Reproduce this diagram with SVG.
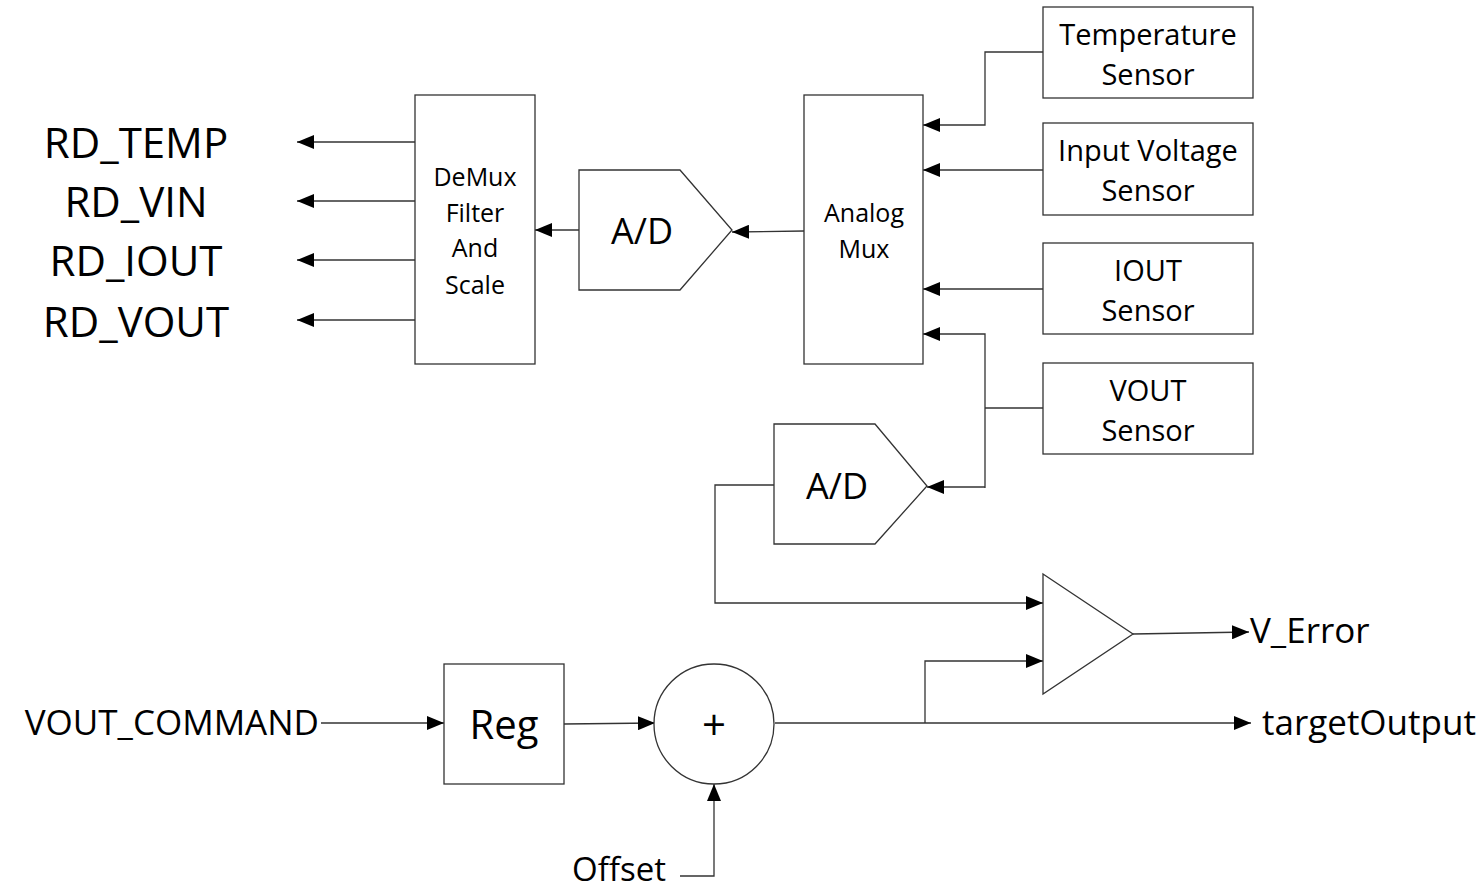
<svg xmlns="http://www.w3.org/2000/svg" width="1483" height="890" viewBox="0 0 1483 890">
<defs>
<marker id="arr" markerWidth="17" markerHeight="14" refX="17" refY="7" orient="auto" markerUnits="userSpaceOnUse">
<path d="M0,0 L17,7 L0,14 Z" fill="#000"/>
</marker>
<style>
.box{fill:#fff;stroke:#333;stroke-width:1.3}
.ln{fill:none;stroke:#333;stroke-width:1.3}
.t{font-family:"Open Sans","Noto Sans",sans-serif;fill:#000;text-anchor:middle;dominant-baseline:central}
.s{font-size:29px}
.m{font-size:25px}
.l{font-size:42px}
.lab{font-size:35px}
</style>
</defs>
<rect width="1483" height="890" fill="#fff"/>

<g id="connectors">
<line class="ln" x1="415" y1="142" x2="297" y2="142" marker-end="url(#arr)"/>
<line class="ln" x1="415" y1="201" x2="297" y2="201" marker-end="url(#arr)"/>
<line class="ln" x1="415" y1="260" x2="297" y2="260" marker-end="url(#arr)"/>
<line class="ln" x1="415" y1="320" x2="297" y2="320" marker-end="url(#arr)"/>
<line class="ln" x1="579" y1="230" x2="535" y2="230" marker-end="url(#arr)"/>
<line class="ln" x1="804" y1="231" x2="732" y2="232" marker-end="url(#arr)"/>
<polyline class="ln" points="1043,52 985,52 985,125 923,125" marker-end="url(#arr)"/>
<line class="ln" x1="1043" y1="170" x2="923" y2="170" marker-end="url(#arr)"/>
<line class="ln" x1="1043" y1="289" x2="923" y2="289" marker-end="url(#arr)"/>
<polyline class="ln" points="985,488 985,334 923,334" marker-end="url(#arr)"/>
<line class="ln" x1="1043" y1="408" x2="985" y2="408"/>
<line class="ln" x1="985" y1="487" x2="927" y2="487" marker-end="url(#arr)"/>
<polyline class="ln" points="774,485 715,485 715,603 1043,603" marker-end="url(#arr)"/>
<polyline class="ln" points="925,723 925,661 1043,661" marker-end="url(#arr)"/>
<line class="ln" x1="1133" y1="634" x2="1249" y2="632" marker-end="url(#arr)"/>
<line class="ln" x1="775" y1="723" x2="1251" y2="723" marker-end="url(#arr)"/>
<line class="ln" x1="321" y1="723" x2="444" y2="723" marker-end="url(#arr)"/>
<line class="ln" x1="564" y1="724" x2="655" y2="723" marker-end="url(#arr)"/>
<polyline class="ln" points="680,876 714,876 714,784" marker-end="url(#arr)"/>
</g>

<g id="labels-left">
<text class="t l" x="136" y="141">RD_TEMP</text>
<text class="t l" x="136" y="200">RD_VIN</text>
<text class="t l" x="136" y="259">RD_IOUT</text>
<text class="t l" x="136" y="320">RD_VOUT</text>
</g>

<g id="demux">
<rect class="box" x="415" y="95" width="120" height="269"/>
<text class="t m" x="475" y="176">DeMux</text>
<text class="t m" x="475" y="212">Filter</text>
<text class="t m" x="475" y="247">And</text>
<text class="t m" x="475" y="284">Scale</text>
</g>

<g id="ad-top">
<polygon class="box" points="579,170 680,170 732,230 680,290 579,290"/>
<text class="t" x="642" y="230" font-size="36">A/D</text>
</g>

<g id="analog-mux">
<rect class="box" x="804" y="95" width="119" height="269"/>
<text class="t m" x="864" y="212">Analog</text>
<text class="t m" x="864" y="248">Mux</text>
</g>

<g id="temp-sensor">
<rect class="box" x="1043" y="7" width="210" height="91"/>
<text class="t s" x="1148" y="33">Temperature</text>
<text class="t s" x="1148" y="73">Sensor</text>
</g>
<g id="vin-sensor">
<rect class="box" x="1043" y="123" width="210" height="92"/>
<text class="t s" x="1148" y="149">Input Voltage</text>
<text class="t s" x="1148" y="189">Sensor</text>
</g>
<g id="iout-sensor">
<rect class="box" x="1043" y="243" width="210" height="91"/>
<text class="t s" x="1148" y="269">IOUT</text>
<text class="t s" x="1148" y="309">Sensor</text>
</g>
<g id="vout-sensor">
<rect class="box" x="1043" y="363" width="210" height="91"/>
<text class="t s" x="1148" y="389">VOUT</text>
<text class="t s" x="1148" y="429">Sensor</text>
</g>

<g id="ad-bottom">
<polygon class="box" points="774,424 875,424 927,486 875,544 774,544"/>
<text class="t" x="837" y="485" font-size="36">A/D</text>
</g>

<g id="comparator">
<polygon class="box" points="1043,574 1133,634 1043,694"/>
</g>
<g id="v-error">
<text class="t lab" x="1250" y="629" style="text-anchor:start">V_Error</text>
</g>
<g id="target-output">
<text class="t lab" x="1262" y="721" style="text-anchor:start">targetOutput</text>
</g>

<g id="vout-command">
<text class="t lab" x="319" y="721" style="text-anchor:end">VOUT_COMMAND</text>
</g>

<g id="reg">
<rect class="box" x="444" y="664" width="120" height="120"/>
<text class="t" x="504" y="723" font-size="40">Reg</text>
</g>

<g id="sum">
<circle class="box" cx="714" cy="724" r="60"/>
<text class="t" x="714" y="723" font-size="42">+</text>
</g>

<g id="offset">
<text class="t" x="619" y="868" font-size="33">Offset</text>
</g>
</svg>
